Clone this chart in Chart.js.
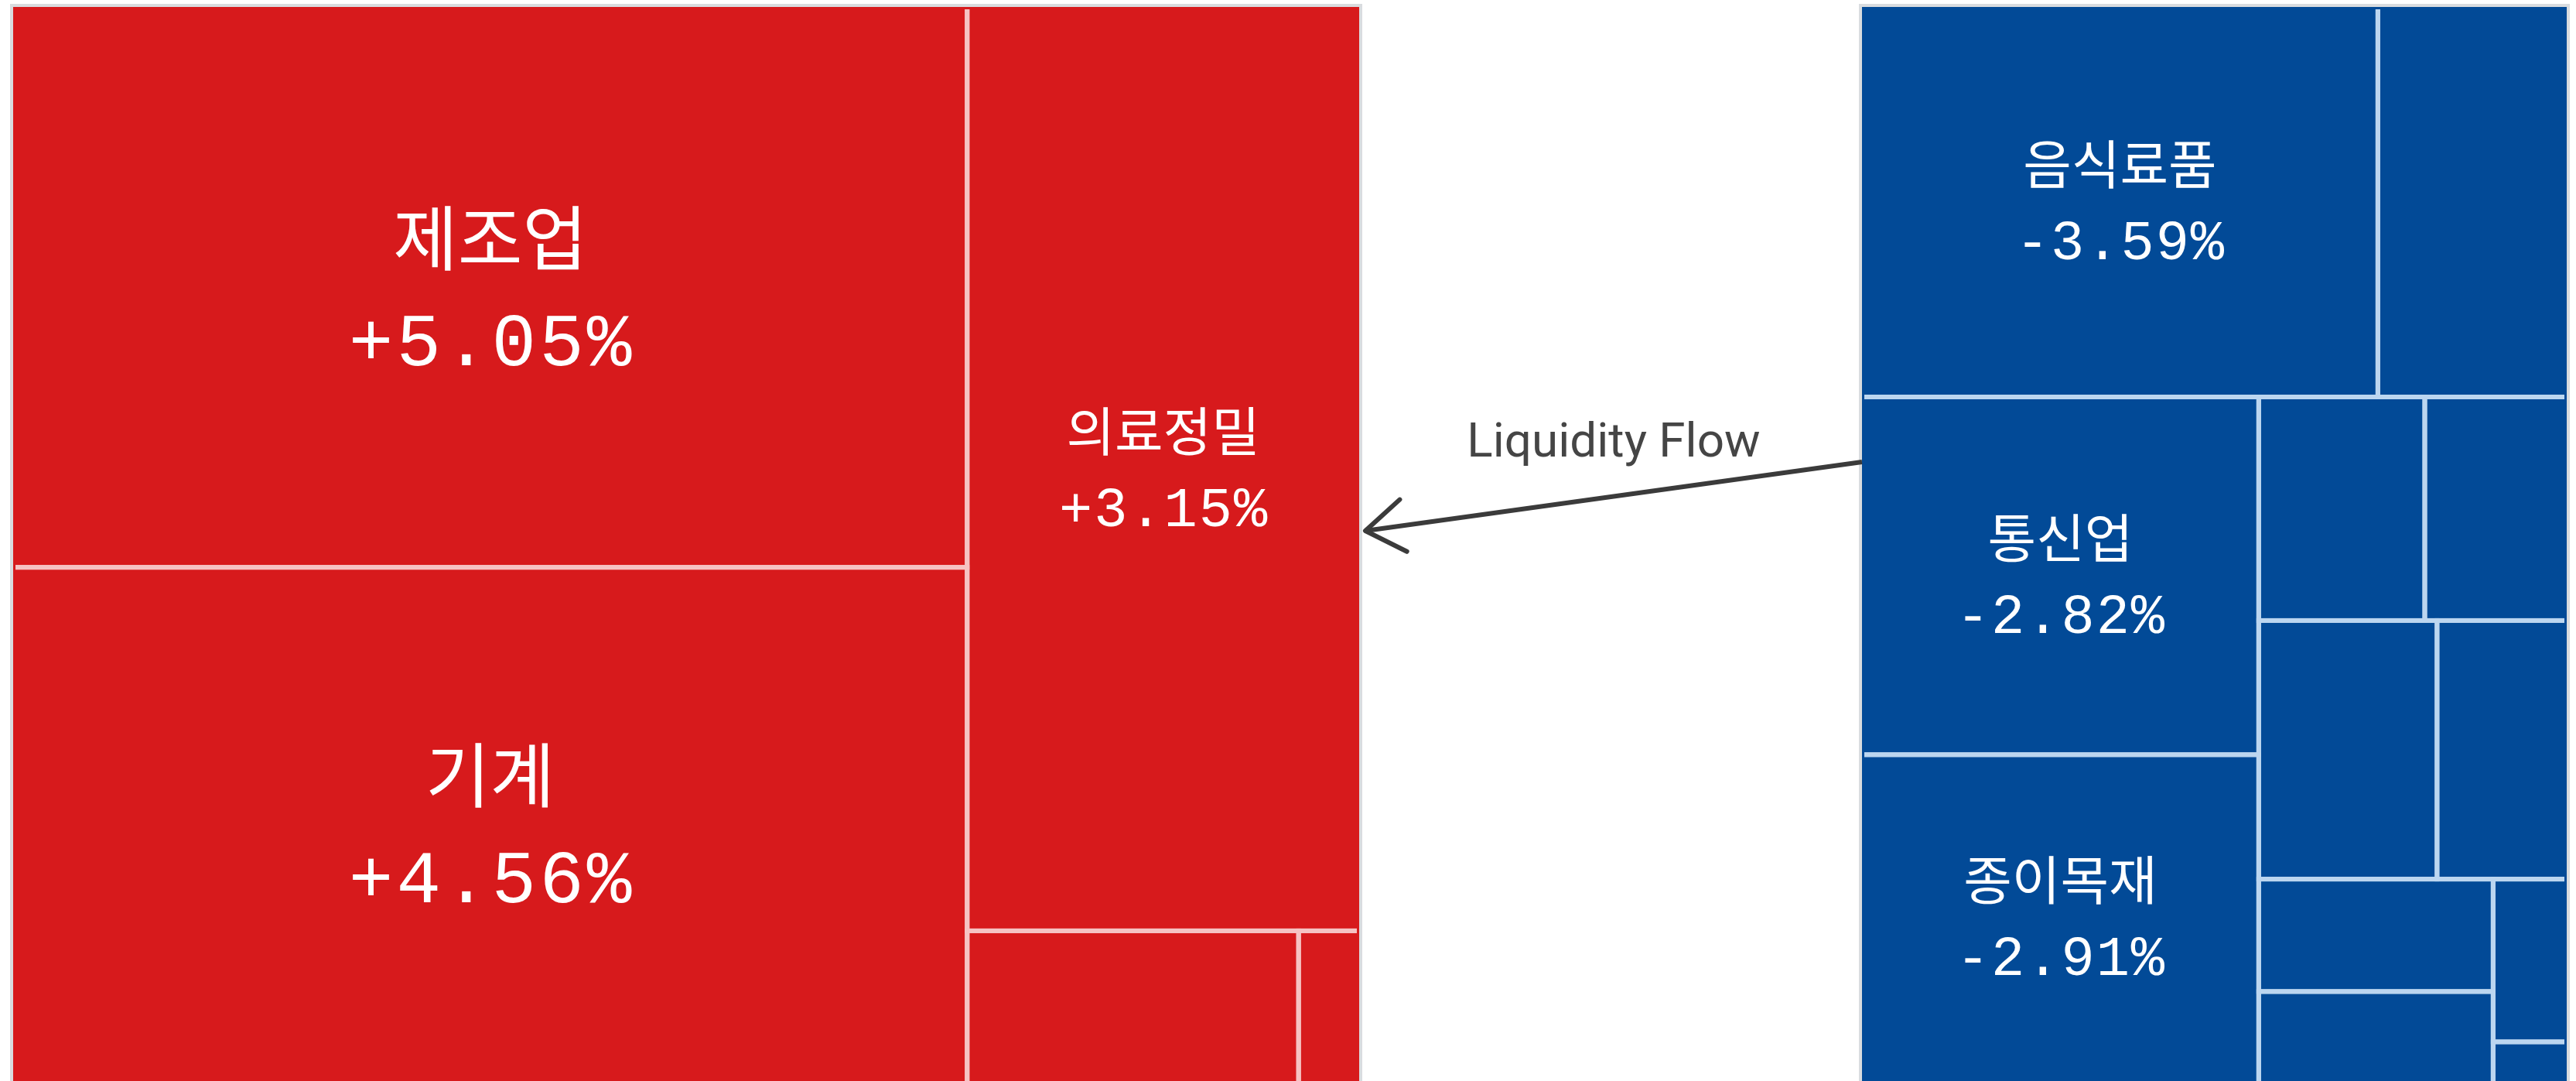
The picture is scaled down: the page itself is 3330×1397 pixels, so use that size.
<!DOCTYPE html>
<html lang="ko">
<head>
<meta charset="utf-8">
<title>업종별 등락률</title>
<script src="https://cdn.jsdelivr.net/npm/chart.js@4.4.1/dist/chart.umd.min.js"></script>
<style>
  html, body { margin: 0; padding: 0; background: #ffffff; }
  #wrap { width: 3330px; height: 1397px; position: relative; }
</style>
</head>
<body>
<div id="wrap"><canvas id="sector_map"></canvas></div>
<script>
// Rising sectors (red block): name, % change, relative size
const upSectors = ["제조업", "기계", "의료정밀", "", ""];
const upChanges = [5.05, 4.56, 3.15, null, null];
const upSizes = [89.3, 84.7, 60.5, 9.3, 1.7];

// Falling sectors (blue block)
const downSectors = ["음식료품", "", "통신업", "종이목재", "", "", "", "", "", "", "", ""];
const downChanges = [-3.59, null, -2.82, -2.91, null, null, null, null, null, null, null, null];
const downSizes = [33.6, 12.3, 23.7, 22.8, 6.2, 5.3, 7.7, 5.6, 4.4, 4.2, 2.0, 0.7];

const flowLabel = "Liquidity Flow";

// How the tiles nest (slice and dice): [direction, ...children], leaves are indexes
const upTree = ["x", ["y", 0, 1], ["y", 2, ["x", 3, 4]]];
const downTree = ["y", ["x", 0, 1], ["x", ["y", 2, 3],
  ["y", ["x", 4, 5], ["x", 6, 7], ["x", ["y", 8, 9], ["y", 10, 11]]]]];

// Block frames in chart units (the blocks run past the bottom of the view)
const upFrame = { x0: 17, x1: 1757, y0: 9, y1: 1420 };
const downFrame = { x0: 2407, x1: 3318, y0: 9, y1: 1420 };

const upStyle = { fill: "#d71a1c", line: "#f6c3c3" };
const downStyle = { fill: "#024a97", line: "#bcd6f0" };

const sumNode = (node, sizes) =>
  Array.isArray(node) ? node.slice(1).reduce((s, n) => s + sumNode(n, sizes), 0) : sizes[node];

// Split a frame by the sizes of its children
const layoutNode = (node, rect, sizes, out) => {
  if (!Array.isArray(node)) {
    out.push({ index: node, ...rect });
    return out;
  }
  const dir = node[0];
  const kids = node.slice(1);
  const total = sumNode(node, sizes);
  let pos = dir === "x" ? rect.x0 : rect.y0;
  const span = dir === "x" ? rect.x1 - rect.x0 : rect.y1 - rect.y0;
  kids.forEach((kid) => {
    const len = (sumNode(kid, sizes) / total) * span;
    const r = dir === "x"
      ? { x0: pos, x1: pos + len, y0: rect.y0, y1: rect.y1 }
      : { x0: rect.x0, x1: rect.x1, y0: pos, y1: pos + len };
    layoutNode(kid, r, sizes, out);
    pos += len;
  });
  return out;
};

const blocks = [
  { frame: upFrame, style: upStyle, names: upSectors, changes: upChanges,
    tiles: layoutNode(upTree, upFrame, upSizes, []) },
  { frame: downFrame, style: downStyle, names: downSectors, changes: downChanges,
    tiles: layoutNode(downTree, downFrame, downSizes, []) },
];

const fmtChange = (v) => (v > 0 ? "+" : "") + v.toFixed(2) + "%";

const toPx = (chart, r) => {
  const { x, y } = chart.scales;
  const xa = x.getPixelForValue(r.x0), xb = x.getPixelForValue(r.x1);
  const ya = y.getPixelForValue(r.y0), yb = y.getPixelForValue(r.y1);
  return { left: Math.min(xa, xb), top: Math.min(ya, yb), w: Math.abs(xb - xa), h: Math.abs(yb - ya) };
};

const treemapPlugin = {
  id: "treemapTiles",
  beforeDatasetsDraw(chart) {
    const ctx = chart.ctx;
    blocks.forEach((b) => {
      const f = toPx(chart, b.frame);
      ctx.save();
      // faint outer frame
      ctx.strokeStyle = "#d9dcdf";
      ctx.lineWidth = 4;
      ctx.strokeRect(f.left - 2, f.top - 2, f.w + 4, f.h + 4);
      ctx.fillStyle = b.style.fill;
      ctx.fillRect(f.left, f.top, f.w, f.h);
      // separators only inside the block
      ctx.beginPath();
      ctx.rect(f.left + 3, f.top + 3, f.w - 6, f.h - 6);
      ctx.clip();
      ctx.strokeStyle = b.style.line;
      ctx.lineWidth = 6;
      b.tiles.forEach((t) => {
        const p = toPx(chart, t);
        ctx.strokeRect(p.left, p.top, p.w, p.h);
      });
      ctx.restore();
    });
  },
  afterDatasetsDraw(chart) {
    const ctx = chart.ctx;
    ctx.save();
    ctx.fillStyle = "#ffffff";
    ctx.textAlign = "center";
    ctx.textBaseline = "middle";
    blocks.forEach((b) => {
      b.tiles.forEach((t) => {
        const name = b.names[t.index];
        const change = b.changes[t.index];
        if (!name) return;
        const p = toPx(chart, t);
        const cx = p.left + p.w / 2;
        // centre on the part of the tile that is in view
        const cy = (p.top + Math.min(p.top + p.h, chart.chartArea.bottom)) / 2;
        const big = p.w > 1000;
        const nameSize = big ? 91 : 68;
        const numSize = big ? 96 : 72;
        const up = big ? 64 : 49;
        const down = big ? 76 : 55;
        ctx.letterSpacing = "0px";
        ctx.font = `400 ${nameSize}px "Noto Sans CJK KR", sans-serif`;
        ctx.fillText(name, cx, cy - up);
        const ls = big ? 4 : 2;
        ctx.letterSpacing = ls + "px";
        ctx.font = `400 ${numSize}px "Liberation Mono", monospace`;
        ctx.fillText(fmtChange(change), cx + ls / 2, cy + down);
      });
    });

    // arrow head on the flow line
    const meta = chart.getDatasetMeta(0);
    const a = meta.data[0], tip = meta.data[1];
    const ang = Math.atan2(a.y - tip.y, a.x - tip.x);
    const len = 60, spread = 0.6;
    ctx.strokeStyle = "#3b3b3b";
    ctx.lineWidth = 6;
    ctx.lineCap = "round";
    ctx.lineJoin = "round";
    ctx.beginPath();
    ctx.moveTo(tip.x + len * Math.cos(ang - spread), tip.y + len * Math.sin(ang - spread));
    ctx.lineTo(tip.x, tip.y);
    ctx.lineTo(tip.x + len * Math.cos(ang + spread), tip.y + len * Math.sin(ang + spread));
    ctx.stroke();

    // flow label
    ctx.letterSpacing = "0px";
    ctx.fillStyle = "#454545";
    ctx.textBaseline = "alphabetic";
    ctx.font = `400 62px Roboto, sans-serif`;
    ctx.fillText(flowLabel, (a.x + tip.x) / 2, 590);
    ctx.restore();
  },
};

new Chart(document.getElementById("sector_map"), {
  type: "scatter",
  data: {
    datasets: [
      {
        label: flowLabel,
        data: [
          { x: downFrame.x0, y: 597 },
          { x: upFrame.x1 + 8, y: 686 },
        ],
        showLine: true,
        borderColor: "#3b3b3b",
        borderWidth: 6,
        pointRadius: 0,
      },
    ],
  },
  options: {
    responsive: true,
    maintainAspectRatio: false,
    animation: false,
    layout: { padding: 0 },
    plugins: {
      legend: { display: false },
      tooltip: { enabled: false },
    },
    scales: {
      x: { type: "linear", min: 0, max: 3330, display: false },
      y: { type: "linear", min: 0, max: 1397, reverse: true, display: false },
    },
  },
  plugins: [treemapPlugin],
});
</script>
</body>
</html>
